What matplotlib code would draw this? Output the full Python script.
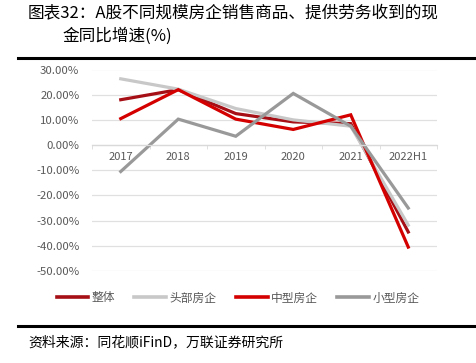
import numpy as np
import matplotlib.pyplot as plt
from matplotlib.lines import Line2D

plt.rcParams['font.family'] = ['Noto Sans CJK SC', 'DejaVu Sans']

years = ["2017", "2018", "2019", "2020", "2021", "2022H1"]
zhengti = [18.0, 22.0, 12.5, 9.2, 8.5, -34.5]
toubu = [26.3, 22.2, 14.5, 10.0, 7.5, -31.8]
zhongxing = [10.5, 22.0, 10.3, 6.2, 12.0, -40.5]
xiaoxing = [-10.5, 10.3, 3.5, 20.5, 7.5, -25.0]

series = [
    ("整体", zhengti, "#A50F15"),
    ("头部房企", toubu, "#C8C8C8"),
    ("中型房企", zhongxing, "#D40000"),
    ("小型房企", xiaoxing, "#999999"),
]

fig = plt.figure(figsize=(4.76, 3.63), dpi=100)
ax = fig.add_axes([92/476, 1-271/363, (437-92)/476, (271-69.5)/363])

x = np.arange(len(years))
for name, vals, col in series:
    ax.plot(x, vals, color=col, lw=2.3, solid_joinstyle='miter', label=name)

ax.set_xlim(-0.5, len(years) - 0.5)
ax.set_ylim(-50, 30)
ax.set_yticks(np.arange(-50, 31, 10))
ax.set_yticklabels(["%.2f%%" % v for v in np.arange(-50, 31, 10)], fontsize=8.2, color="#595959")
ax.yaxis.grid(True, color="#E0E0E0", lw=0.9)
ax.set_axisbelow(True)
ax.tick_params(axis='y', length=0, pad=9)

for s in ["top", "right", "left"]:
    ax.spines[s].set_visible(False)
ax.spines["bottom"].set_position(("data", 0))
ax.spines["bottom"].set_color("#D9D9D9")
ax.spines["bottom"].set_linewidth(0.9)

ax.set_xticks(np.arange(-0.5, len(years)), minor=True)
ax.set_xticks(x)
ax.set_xticklabels(years, fontsize=8, color="#595959")
ax.tick_params(axis='x', which='major', length=0, pad=5)
ax.tick_params(axis='x', which='minor', length=3, color="#D9D9D9", direction='out')

handles = [Line2D([0], [0], color=c, lw=2.6) for _, _, c in series]
fig.legend(handles, [n for n, _, _ in series], loc='center', bbox_to_anchor=(0.5, 1-298/363),
           ncol=4, frameon=False, fontsize=8.5, handlelength=2.7, handletextpad=0.3,
           columnspacing=1.6, labelcolor="#595959")

fig.text(28/476, 1-13/363, "图表32：A股不同规模房企销售商品、提供劳务收到的现",
         fontsize=12, va='center', ha='left')
fig.text(62/476, 1-36/363, "金同比增速(%)", fontsize=12, va='center', ha='left')
fig.add_artist(Line2D([18/476, 1], [1-58/363, 1-58/363], color='black', lw=2.2))
fig.add_artist(Line2D([18/476, 1], [1-326/363, 1-326/363], color='black', lw=2.2))
fig.text(28/476, 1-342/363, "资料来源：同花顺iFinD，万联证券研究所", fontsize=10,
         va='center', ha='left', style='italic')

fig.savefig("out.png", dpi=100)
